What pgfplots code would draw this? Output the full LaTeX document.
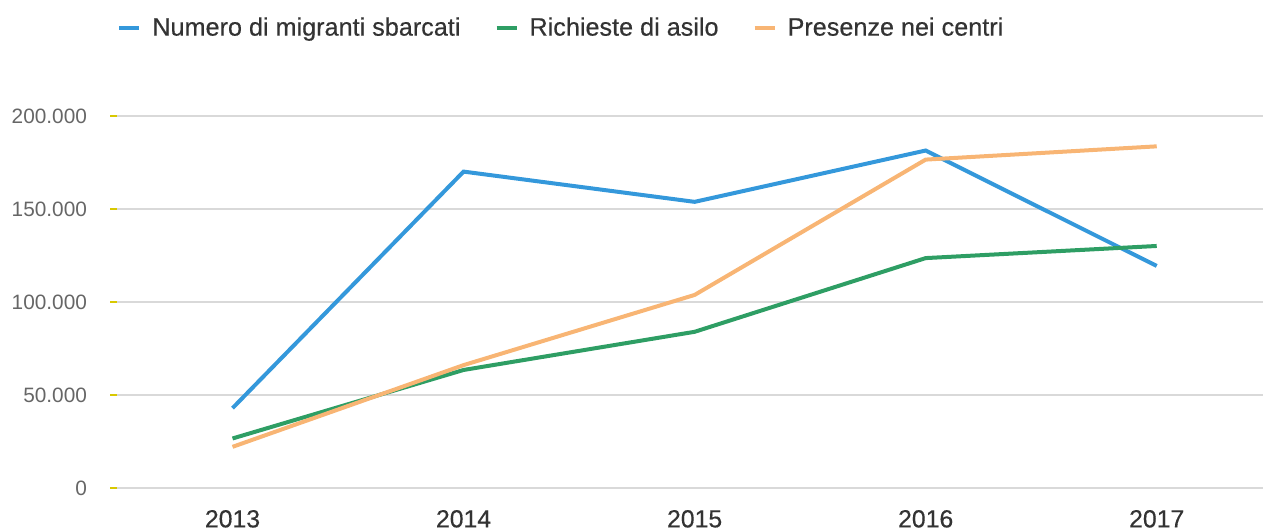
\documentclass[border=0pt]{standalone}
\usepackage{pgfplots}
\pgfplotsset{compat=1.18}
\usepackage{fontspec}
\setmainfont{Liberation Sans}
\newfontfamily\medfont[FakeBold=0.4]{Liberation Sans}
\definecolor{cblue}{HTML}{3498DB}
\definecolor{cgreen}{HTML}{2E9E64}
\definecolor{corange}{HTML}{F8B574}
\definecolor{cyel}{HTML}{D8C800}
\definecolor{cgrid}{HTML}{D9D9D9}
\definecolor{ctext}{HTML}{333333}
\definecolor{cytext}{HTML}{666666}
\begin{document}
\begin{tikzpicture}
\begin{axis}[
  at={(0pt,0pt)}, anchor=south west,
  scale only axis, width=573pt, height=186pt,
  xmin=2012.5, xmax=2017.46, ymin=0, ymax=200000,
  scaled y ticks=false,
  axis line style={draw=none},
  xtick={2013,2014,2015,2016,2017},
  xticklabels={2013,2014,2015,2016,2017},
  x tick style={draw=none},
  xticklabel style={font=\medfont\fontsize{12.4}{14}\selectfont, text=ctext, yshift=-4pt},
  extra x ticks={2012.5,2013.5,2014.5,2015.5,2016.5},
  extra x tick labels={},
  extra x tick style={tick style={draw=cyel, line width=0.8pt}, major tick length=4pt, tick align=outside, grid=none},
  ytick={0,50000,100000,150000,200000},
  yticklabels={0,50.000,100.000,150.000,200.000},
  yticklabel style={font=\fontsize{10.4}{12}\selectfont, text=cytext, xshift=-8pt},
  y tick style={draw=cyel, line width=0.8pt},
  major tick length=3.5pt, tick align=outside,
  ymajorgrids, major grid style={draw=cgrid, line width=1pt},
  legend columns=3,
  legend style={at={(axis description cs:0,1)}, anchor=west, yshift=44pt, xshift=-3pt,
    draw=none, fill=none, font=\medfont\fontsize{12.6}{14}\selectfont, text=ctext,
    /tikz/every even column/.append style={column sep=15pt}},
  legend image code/.code={\draw[#1, line width=2pt] (0pt,0pt) -- (10pt,0pt);\path (13.5pt,0pt);},
]
\addplot[cblue, line width=2pt] coordinates {(2013,42925) (2014,170100) (2015,153842) (2016,181436) (2017,119369)};
\addlegendentry{Numero di migranti sbarcati}
\addplot[cgreen, line width=2pt] coordinates {(2013,26620) (2014,63456) (2015,83970) (2016,123600) (2017,130119)};
\addlegendentry{Richieste di asilo}
\addplot[corange, line width=2pt] coordinates {(2013,22118) (2014,66066) (2015,103792) (2016,176554) (2017,183681)};
\addlegendentry{Presenze nei centri}
\end{axis}
\pgfresetboundingbox
\path[use as bounding box] (-58.5pt,-20pt) rectangle (573pt,244pt);
\end{tikzpicture}
\end{document}
